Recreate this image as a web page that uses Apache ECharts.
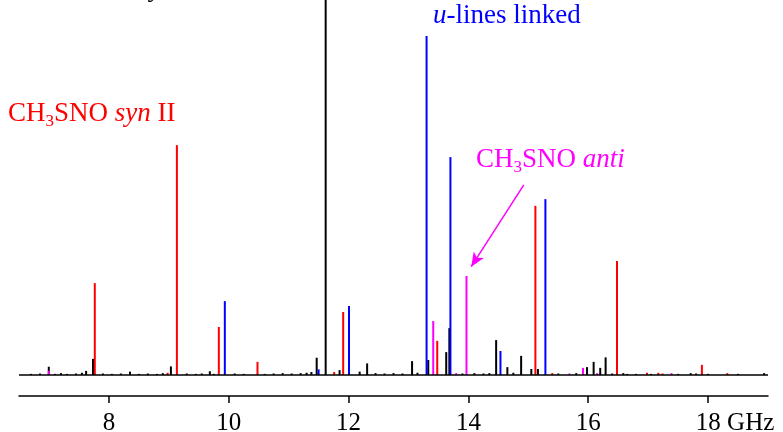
<!DOCTYPE html>
<html>
<head>
<meta charset="utf-8">
<script src="https://cdn.jsdelivr.net/npm/echarts@6/dist/echarts.min.js"></script>
<style>
  html, body { margin: 0; padding: 0; background: #fff; }
  #chart { width: 783px; height: 432px; }
</style>
</head>
<body>
<div id="chart"></div>
<script>
// frequencies in GHz, intensities in arbitrary units (top of plot = 100)
var tickValues = [8, 10, 12, 14, 16, 18]

var synLines = [
  [7.765, 24.5], [9.135, 61.3], [9.835, 12.8], [10.48, 3.5], [11.91, 16.8],
  [13.48, 9.1], [15.118, 45.1], [16.48, 30.4], [17.897, 2.7],
  [8.98, 0.6], [11.76, 0.8], [15.40, 0.5], [16.98, 0.6], [17.17, 0.6],
  [17.24, 0.4], [18.32, 0.5]
]
var uLines = [
  [9.935, 19.7], [12.007, 18.4], [11.50, 1.5], [13.302, 90.4],
  [13.70, 58.1], [14.535, 6.4], [15.285, 46.9]
]
var antiLines = [
  [6.997, 1.1], [13.413, 14.4], [13.968, 26.4], [15.913, 1.9],
  [13.797, 0.5], [15.685, 0.4], [16.15, 0.5], [17.39, 0.5]
]
var otherLines = [
  [6.997, 2.2], [7.62, 1.1], [7.735, 4.3], [8.352, 0.9], [9.035, 2.3],
  [9.685, 1.0], [11.38, 0.8], [11.468, 4.6], [11.618, 120], [11.85, 1.3],
  [12.185, 0.9], [12.31, 3.1], [13.06, 3.7], [13.33, 4.0], [13.63, 6.1],
  [13.682, 12.5], [14.463, 9.3], [14.65, 2.1], [14.88, 5.1], [15.05, 1.6],
  [15.16, 1.6], [15.98, 2.1], [16.09, 3.5], [16.20, 1.9], [16.29, 4.7],
  [16.585, 0.5], [17.71, 0.5], [18.935, 0.5]
]
var noise = [
  [6.7, 0.3], [6.85, 0.4], [7.1, 0.3], [7.2, 0.5], [7.3, 0.3], [7.45, 0.4],
  [7.55, 0.6], [7.9, 0.4], [8.05, 0.3], [8.2, 0.4], [8.5, 0.3], [8.65, 0.4],
  [8.8, 0.3], [8.9, 0.5], [9.3, 0.4], [9.45, 0.3], [9.55, 0.4], [9.75, 0.3],
  [10.1, 0.4], [10.25, 0.3], [10.6, 0.3], [10.75, 0.4], [10.9, 0.5],
  [11.05, 0.4], [11.2, 0.5], [11.3, 0.6], [12.45, 0.5], [12.6, 0.4],
  [12.75, 0.5], [12.9, 0.4], [13.15, 0.6], [13.9, 0.4], [14.1, 0.5],
  [14.25, 0.4], [14.35, 0.5], [14.75, 0.6], [15.5, 0.4], [15.8, 0.5],
  [16.4, 0.4], [16.65, 0.3], [16.8, 0.3], [17.05, 0.3], [17.5, 0.3],
  [17.8, 0.4], [18.0, 0.3], [18.5, 0.3]
]
var baseline = [[6.5, 0], [19, 0]]
var arrowFrom = [14.925, 50.7]
var arrowTo = [14.047, 28.9]

var serif = '"Liberation Serif", "DejaVu Serif", serif'

function sticks(name, data, color) {
  return {
    name: name,
    type: "custom",
    clip: true,
    data: data,
    renderItem: function (params, api) {
      var p0 = api.coord([api.value(0), 0])
      var p1 = api.coord([api.value(0), api.value(1)])
      return {
        type: "line",
        shape: { x1: p0[0], y1: p0[1], x2: p1[0], y2: p1[1] },
        style: { stroke: color, lineWidth: 2 },
      }
    },
  }
}

var sub = { fontSize: 17, fontFamily: serif, padding: [16, 0, 0, 0] }
var subHigh = { fontSize: 17, fontFamily: serif, padding: [4, 0, 0, 0] }
var ital = { fontStyle: "italic", fontSize: 27, fontFamily: serif }

var chart = echarts.init(document.getElementById("chart"))
chart.setOption({
  animation: false,
  grid: { left: 19, right: 15, top: 0, bottom: 36, outerBoundsMode: "none", containLabel: false },
  xAxis: {
    type: "value",
    min: 6.5,
    max: 19,
    axisLine: { onZero: false, lineStyle: { color: "#000", width: 1.5 } },
    axisTick: { customValues: tickValues, length: 7, lineStyle: { color: "#000", width: 1.5 } },
    splitLine: { show: false },
    axisLabel: {
      customValues: tickValues,
      margin: 15,
      color: "#000",
      fontSize: 25,
      fontFamily: serif,
      formatter: function (v) {
        return v === 18 ? "{u|18 GHz}" : String(v)
      },
      rich: { u: { fontSize: 25, fontFamily: serif, color: "#000", padding: [0, 0, 0, 54] } },
    },
  },
  yAxis: { type: "value", min: -5.6, max: 100, show: false },
  series: [
    {
      type: "line",
      data: baseline,
      symbol: "none",
      lineStyle: { color: "#000", width: 1.5 },
    },
    sticks("noise", noise, "#000"),
    sticks("other", otherLines, "#000"),
    sticks("syn II", synLines, "#ff0000"),
    sticks("u-lines", uLines, "#0000ff"),
    Object.assign(sticks("anti", antiLines, "#ff00ff"), {
      markLine: {
        silent: true,
        symbol: ["none", "arrow"],
        symbolSize: [9, 14],
        label: { show: false },
        lineStyle: { color: "#ff00ff", width: 1.5, type: "solid" },
        data: [[{ coord: arrowFrom }, { coord: arrowTo }]],
      },
    }),
  ],
  graphic: [
    {
      type: "text", left: 33, top: -25,
      style: {
        text: "CH{s|3}SNO {i|syn} I", fill: "#000", font: "27px " + serif,
        rich: { s: subHigh, i: ital },
      },
    },
    {
      type: "text", left: 8, top: 100,
      style: {
        text: "CH{s|3}SNO {i|syn} II", fill: "#ff0000", font: "27px " + serif,
        rich: { s: sub, i: ital },
      },
    },
    {
      type: "text", left: 433, top: 2,
      style: {
        text: "{i|u}-lines linked", fill: "#0000ff", font: "27px " + serif,
        rich: { i: ital },
      },
    },
    {
      type: "text", left: 476, top: 146,
      style: {
        text: "CH{s|3}SNO {i|anti}", fill: "#ff00ff", font: "27px " + serif,
        rich: { s: sub, i: ital },
      },
    },
  ],
})
</script>
</body>
</html>
